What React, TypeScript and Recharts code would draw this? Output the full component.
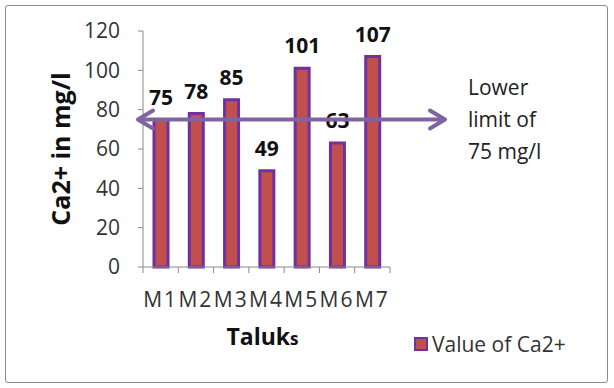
import React from 'react';
import { BarChart, Bar, XAxis, YAxis, LabelList, Legend, ReferenceLine } from 'recharts';

// Calcium concentration per taluk (mg/l)
const categories = ['M1', 'M2', 'M3', 'M4', 'M5', 'M6', 'M7'];
const calciumValues = [75, 78, 85, 49, 101, 63, 107];
const yTicks = [0, 20, 40, 60, 80, 100, 120];
const lowerLimit = 75;
const limitLines = ['Lower', 'limit of', '75 mg/l'];
const seriesName = 'Value of Ca2+';

const data = categories.map((name, i) => ({ name, value: calciumValues[i] }));

const FONT = '"Open Sans", "Liberation Sans", sans-serif';
const BAR_FILL = '#C0504D';
const BAR_STROKE = '#7030A0';
const ARROW = '#8064A2';

// Category tick: label plus boundary tick marks between categories
const CategoryTick = (props: any) => {
  const { x, y, payload, index, visibleTicksCount } = props;
  const half = payload && payload.offset ? payload.offset : 17.5;
  const axisY = y - 9;
  const isLast = index === (visibleTicksCount ?? categories.length) - 1;
  return (
    <g>
      <line x1={x - half} y1={axisY} x2={x - half} y2={axisY + 6} stroke="#8a8a8a" strokeWidth={1} />
      {isLast && (
        <line x1={x + half} y1={axisY} x2={x + half} y2={axisY + 6} stroke="#8a8a8a" strokeWidth={1} />
      )}
      <text
        x={x}
        y={axisY + 40}
        textAnchor="middle"
        fontFamily={FONT}
        fontSize={21}
        letterSpacing={2}
        fill="#333"
      >
        {payload.value}
      </text>
    </g>
  );
};

// Double-headed arrow marking the lower limit, with its note on the right
const LimitArrow = (props: any) => {
  const { x1, y1, x2 } = props;
  const y = y1;
  const left = x1 - 5;
  const right = x2 + 55;
  const head = 15;
  return (
    <g>
      <line x1={left + 2} y1={y} x2={right - 2} y2={y} stroke={ARROW} strokeWidth={4} />
      <polyline
        points={`${left + head},${y - 9} ${left},${y} ${left + head},${y + 9}`}
        fill="none"
        stroke={ARROW}
        strokeWidth={4}
        strokeLinecap="round"
        strokeLinejoin="round"
      />
      <polyline
        points={`${right - head},${y - 9} ${right},${y} ${right - head},${y + 9}`}
        fill="none"
        stroke={ARROW}
        strokeWidth={4}
        strokeLinecap="round"
        strokeLinejoin="round"
      />
      <text fontFamily={FONT} fontSize={21} fill="#222">
        {limitLines.map((t, i) => (
          <tspan key={t} x={right + 23} y={y - 25 + i * 32}>
            {t}
          </tspan>
        ))}
      </text>
    </g>
  );
};

const YTitle = (props: any) => {
  const { viewBox } = props;
  const cx = viewBox.x - 23;
  const cy = viewBox.y + viewBox.height / 2;
  return (
    <text
      x={cx}
      y={cy}
      transform={`rotate(-90, ${cx}, ${cy})`}
      textAnchor="middle"
      dominantBaseline="central"
      fontFamily={FONT}
      fontWeight="bold"
      fontSize={25}
      fill="#111"
    >
      Ca2+ in mg/l
    </text>
  );
};

const XTitle = (props: any) => {
  const { viewBox } = props;
  const cx = viewBox.x + viewBox.width / 2 - 4;
  return (
    <text x={cx} y={viewBox.y + viewBox.height + 43} textAnchor="middle" fontFamily={FONT} fontWeight="bold" fill="#111">
      <tspan fontSize={23}>Taluk</tspan>
      <tspan fontSize={17}>s</tspan>
    </text>
  );
};

const LegendContent = (props: any) => {
  const { payload } = props;
  return (
    <div style={{ display: 'flex', alignItems: 'center' }}>
      {(payload || []).map((p: any) => (
        <div key={p.value} style={{ display: 'flex', alignItems: 'center' }}>
          <span
            style={{
              display: 'inline-block',
              width: 10,
              height: 10,
              background: BAR_FILL,
              border: `2px solid ${BAR_STROKE}`,
              marginRight: 4,
            }}
          />
          <span style={{ fontFamily: FONT, fontSize: 21, color: '#333', lineHeight: '22px' }}>{p.value}</span>
        </div>
      ))}
    </div>
  );
};

export default function App() {
  return (
    <div style={{ position: 'absolute', left: 0, top: 0, width: 614, height: 388, background: '#fff' }}>
      <BarChart
        width={614}
        height={388}
        data={data}
        margin={{ top: 31, right: 224, bottom: 86, left: 83 }}
      >
        <XAxis
          dataKey="name"
          height={35}
          axisLine={{ stroke: '#8a8a8a' }}
          tickLine={false}
          tickSize={7}
          tickMargin={2}
          interval={0}
          tick={<CategoryTick />}
          label={<XTitle />}
        />
        <YAxis
          width={60}
          domain={[0, 120]}
          ticks={yTicks}
          interval={0}
          axisLine={{ stroke: '#8a8a8a' }}
          tickLine={{ stroke: '#8a8a8a' }}
          tickSize={5}
          tickMargin={18}
          tick={{ fontFamily: FONT, fontSize: 21, fill: '#333' }}
          label={<YTitle />}
        />
        <Legend
          layout="horizontal"
          verticalAlign="middle"
          align="center"
          wrapperStyle={{ left: 414, top: 333, width: 195 }}
          content={<LegendContent />}
        />
        <Bar
          dataKey="value"
          name={seriesName}
          fill={BAR_FILL}
          stroke={BAR_STROKE}
          strokeWidth={3}
          barSize={14}
          isAnimationActive={false}
        >
          <LabelList
            dataKey="value"
            position="top"
            offset={15}
            fontFamily={FONT}
            fontWeight="bold"
            fontSize={21}
            fill="#111"
          />
        </Bar>
        <ReferenceLine
          y={lowerLimit}
          ifOverflow="visible"
          shape={<LimitArrow />}
          {...({ zIndex: 2000 } as any)}
        />
      </BarChart>
      <div
        style={{
          position: 'absolute',
          left: 5,
          top: 5,
          width: 603,
          height: 378,
          border: '1.5px solid #8c8c8c',
          borderRadius: 3,
          boxSizing: 'border-box',
          pointerEvents: 'none',
        }}
      />
    </div>
  );
}
